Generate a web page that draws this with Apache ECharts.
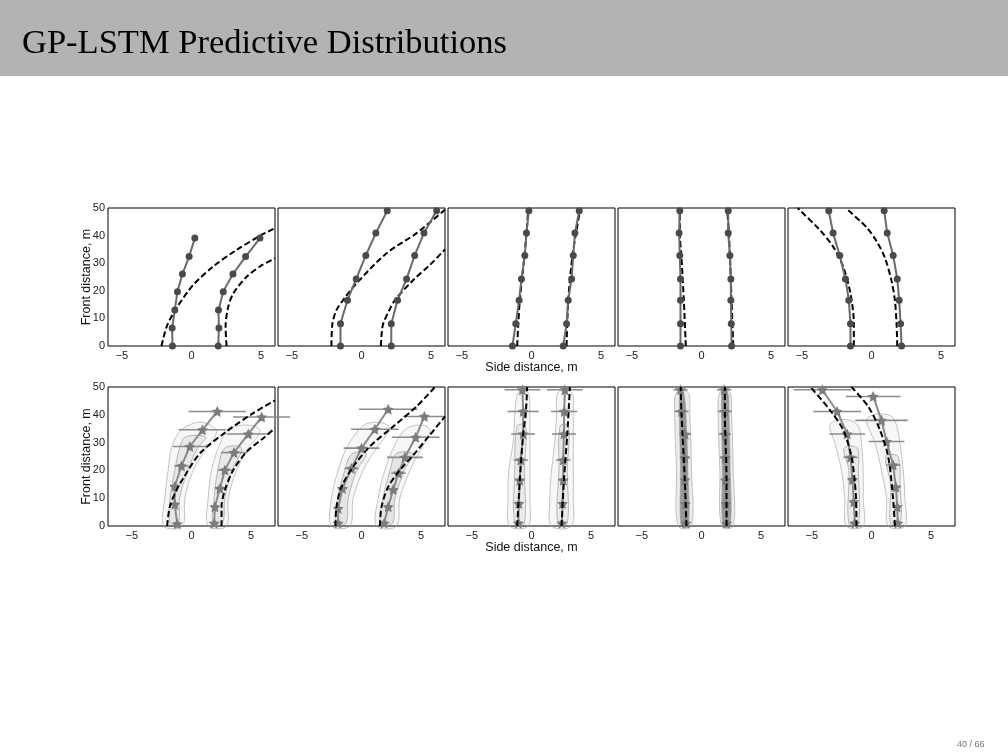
<!DOCTYPE html>
<html>
<head>
<meta charset="utf-8">
<script src="https://cdn.jsdelivr.net/npm/echarts@6/dist/echarts.min.js"></script>
<style>
  html, body { margin: 0; padding: 0; background: #fff; }
  #chart { width: 1008px; height: 756px; }
</style>
</head>
<body>
<div id="chart"></div>
<script>
// --- data (side distance x, front distance y, metres) ---

// top row: point predictions [x, y]
const topPredLeft = [
    [[-1.37, 0], [-1.39, 6.5], [-1.2, 13], [-1.01, 19.7], [-0.65, 26.1], [-0.17, 32.4], [0.24, 39.1]],
    [[-1.51, 0], [-1.51, 8.1], [-1.01, 16.6], [-0.38, 24.3], [0.31, 32.8], [1.03, 40.9], [1.85, 49]],
    [[-1.37, 0], [-1.13, 8.1], [-0.89, 16.6], [-0.72, 24.3], [-0.48, 32.8], [-0.36, 40.9], [-0.19, 49]],
    [[-1.51, 0], [-1.51, 8.1], [-1.51, 16.6], [-1.51, 24.3], [-1.56, 32.8], [-1.61, 40.9], [-1.56, 49]],
    [[-1.51, 0], [-1.51, 8.1], [-1.63, 16.6], [-1.87, 24.3], [-2.28, 32.8], [-2.76, 40.9], [-3.07, 49]]
]
const topPredRight = [
    [[1.92, 0], [1.97, 6.5], [1.94, 13], [2.28, 19.7], [2.98, 26.1], [3.89, 32.4], [4.92, 39.1]],
    [[2.14, 0], [2.14, 8.1], [2.59, 16.6], [3.24, 24.3], [3.82, 32.8], [4.49, 40.9], [5.4, 49]],
    [[2.28, 0], [2.52, 8.1], [2.64, 16.6], [2.88, 24.3], [3.0, 32.8], [3.12, 40.9], [3.43, 49]],
    [[2.16, 0], [2.14, 8.1], [2.11, 16.6], [2.11, 24.3], [2.04, 32.8], [1.92, 40.9], [1.92, 49]],
    [[2.16, 0], [2.09, 8.1], [1.99, 16.6], [1.85, 24.3], [1.56, 32.8], [1.13, 40.9], [0.91, 49]]
]
// top row: ground-truth paths (dashed)
const topTruthLeft = [
    [[-2.16, 0], [-2.0, 3.3], [-1.75, 7.5], [-1.4, 11], [-1.0, 14.4], [0.12, 22.1], [1.56, 28.8], [3.24, 34.8], [4.92, 39.9], [6.0, 42.7]],
    [[-2.16, 0], [-2.09, 8.1], [-1.8, 13], [-1.27, 17], [-0.36, 22.7], [1.8, 33.6], [3.96, 40.9], [6.0, 49.4]],
    [[-1.03, 0], [-0.95, 8], [-0.84, 16.6], [-0.6, 28], [-0.36, 40.9], [-0.24, 49]],
    [[-1.13, 0], [-1.27, 16.6], [-1.45, 32.8], [-1.56, 40.9], [-1.56, 49]],
    [[-1.27, 0], [-1.27, 8.1], [-1.51, 19], [-2.04, 28.8], [-2.76, 36], [-3.72, 42.1], [-5.11, 49], [-5.3, 50]]
]
const topTruthRight = [
    [[2.52, 0], [2.45, 6.9], [2.64, 14.2], [3.0, 19], [3.96, 25.1], [4.92, 28.8], [6.0, 31.8]],
    [[1.39, 0], [1.46, 5], [1.56, 8.1], [2.0, 13], [2.4, 16.6], [3.72, 23.9], [4.92, 29.4], [6.0, 35]],
    [[2.52, 0], [2.64, 16.6], [2.95, 32.8], [3.48, 49]],
    [[2.28, 0], [2.16, 16.6], [1.97, 40.9], [1.85, 49]],
    [[1.85, 0], [1.8, 8.1], [1.68, 16.6], [1.44, 23.6], [0.96, 32], [0.36, 38], [-0.36, 43], [-1.68, 49.2]]
]

// bottom row: predictive means with horizontal spread [x, y, halfWidth]
const botPredLeft = [
    [[-1.2, 0.8, 0.2], [-1.4, 7.8, 0.3], [-1.4, 14.3, 0.4], [-0.84, 21.6, 0.6], [-0.14, 28.6, 1.4], [0.92, 34.6, 2.0], [2.16, 41.2, 2.4]],
    [[-1.96, 1, 0.2], [-1.96, 6.3, 0.3], [-1.6, 13.5, 0.4], [-0.84, 20.7, 0.6], [0, 28, 1.5], [1.12, 34.8, 2.0], [2.24, 42, 2.45]],
    [[-1.1, 1, 0.2], [-1.06, 8.1, 0.3], [-0.98, 16.5, 0.4], [-0.9, 23.7, 0.6], [-0.7, 33.1, 1.0], [-0.7, 41.2, 1.3], [-0.76, 49, 1.5]],
    [[-1.3, 1, 0.2], [-1.35, 8, 0.2], [-1.4, 16.5, 0.3], [-1.4, 24.5, 0.4], [-1.37, 33, 0.5], [-1.68, 41.2, 0.6], [-1.76, 49, 0.6]],
    [[-1.4, 1, 0.2], [-1.48, 8.7, 0.3], [-1.6, 16.7, 0.4], [-1.76, 24.7, 0.6], [-2.04, 33.1, 1.5], [-2.88, 41.2, 2.0], [-4.12, 49, 2.4]]
]
const botPredRight = [
    [[1.9, 1, 0.2], [1.96, 6.9, 0.3], [2.38, 13.5, 0.4], [2.8, 20.1, 0.6], [3.56, 26.4, 1.1], [4.76, 33.1, 1.8], [5.88, 39.2, 2.4]],
    [[1.9, 1, 0.2], [2.24, 6.9, 0.3], [2.66, 13.1, 0.4], [3.1, 19, 0.6], [3.64, 24.7, 1.5], [4.54, 31.9, 2.0], [5.27, 39.4, 1.8]],
    [[2.55, 1, 0.2], [2.6, 8.1, 0.3], [2.66, 16.5, 0.4], [2.66, 23.7, 0.6], [2.72, 33.1, 1.0], [2.74, 41.2, 1.1], [2.8, 49, 1.5]],
    [[2.1, 1, 0.2], [2.05, 8, 0.2], [2.0, 16.5, 0.3], [1.98, 24.5, 0.4], [1.96, 33, 0.5], [1.96, 41.2, 0.6], [1.9, 49, 0.6]],
    [[2.2, 1, 0.2], [2.16, 6.9, 0.3], [2.04, 14, 0.4], [1.82, 21.9, 0.6], [1.26, 30.4, 1.5], [0.84, 38, 2.2], [0.14, 46.6, 2.3]]
]
const botTruthLeft = [
    [[-2.04, 0], [-1.82, 6.9], [-1.26, 12.9], [-0.7, 17.1], [0.7, 26.1], [2.94, 34], [5.18, 40.6], [7, 45.2]],
    [[-2.18, 0], [-2.1, 6.9], [-1.68, 14.1], [-0.7, 21.3], [0.7, 28.6], [2.66, 35.8], [4.62, 43], [6.16, 50]],
    [[-1.2, 0], [-0.98, 16.5], [-0.7, 32.8], [-0.48, 40.6], [-0.36, 50]],
    [[-1.26, 0], [-1.4, 16.5], [-1.68, 40.6], [-1.74, 50]],
    [[-1.26, 0], [-1.32, 11.7], [-1.68, 24.9], [-2.38, 34.6], [-3.5, 41.8], [-5.04, 49.6]]
]
const botTruthRight = [
    [[2.52, 0], [2.52, 6.9], [2.8, 12.9], [3.5, 20.1], [4.62, 26.7], [6.02, 31.6], [7, 35.2]],
    [[1.54, 0], [1.68, 6.9], [2.24, 14.1], [3.22, 20.1], [4.34, 25.5], [5.74, 32.8], [7, 39.4]],
    [[2.52, 0], [2.72, 16.5], [3.0, 33.1], [3.22, 50]],
    [[2.1, 0], [2.1, 16.5], [1.96, 40.6], [1.96, 50]],
    [[1.96, 0], [1.82, 9.3], [1.4, 24.9], [0.7, 34.6], [-0.28, 43], [-1.68, 50]]
]

// bottom row: density contour outlines, rows of [y, xLeft, xRight]
const outerLeft = [
    [[0, -2.32, -0.76], [10, -2.24, -0.56], [20, -1.96, 0.14], [28, -1.68, 1.26], [34, -0.98, 2.1], [37, 0.2, 1.2]],
    [[0, -2.52, -0.98], [10, -2.52, -0.7], [20, -1.96, 0.14], [28, -1.26, 1.26], [35, -0.14, 2.38], [37, 0.6, 1.8]],
    [[0, -1.82, -0.28], [10, -1.96, -0.14], [20, -1.9, -0.14], [30, -1.54, -0.14], [40, -1.4, -0.14], [48, -1.1, -0.3]],
    [[0, -1.96, -0.84], [20, -2.1, -0.84], [40, -2.24, -0.98], [48, -2.1, -1.12]],
    [[0, -2.1, -0.7], [10, -2.24, -0.7], [20, -2.52, -0.7], [30, -3.08, -0.84], [36, -3.5, -1.12], [38, -3.0, -1.8]]
]
const outerRight = [
    [[0, 1.4, 2.94], [10, 1.4, 3.08], [20, 1.68, 3.78], [28, 2.24, 4.76], [34, 2.94, 5.74], [36, 3.8, 5.2]],
    [[0, 1.26, 2.94], [10, 1.4, 3.22], [20, 1.96, 4.06], [28, 2.66, 5.04], [34, 3.5, 5.74], [36, 4.3, 5.4]],
    [[0, 1.68, 3.36], [10, 1.54, 3.5], [20, 1.68, 3.5], [30, 1.96, 3.5], [40, 2.1, 3.5], [48, 2.24, 3.36]],
    [[0, 1.68, 2.66], [20, 1.54, 2.66], [40, 1.4, 2.52], [48, 1.54, 2.38]],
    [[0, 1.4, 2.8], [10, 1.26, 2.8], [20, 0.84, 2.66], [30, 0.28, 2.38], [38, -0.42, 1.96], [40, 0.2, 1.4]]
]
const innerLeft = [
    [[1, -1.8, -1.1], [10, -1.8, -1.0], [20, -1.4, -0.3], [28, -1.0, 0.5], [32, -0.5, 1.2]],
    [[1, -2.1, -1.3], [10, -2.0, -1.1], [20, -1.4, -0.4], [26, -0.8, 0.4]],
    [[1, -1.4, -0.6], [20, -1.4, -0.6], [36, -1.2, -0.5]],
    [[0, -1.7, -1.1], [20, -1.75, -1.15], [40, -1.85, -1.3], [48, -1.8, -1.5]],
    [[1, -1.9, -1.1], [20, -1.9, -1.1], [28, -2.3, -1.2]]
]
const innerRight = [
    [[1, 1.8, 2.6], [10, 1.9, 2.8], [20, 2.2, 3.4], [28, 2.8, 4.2]],
    [[1, 1.6, 2.6], [10, 1.8, 2.8], [20, 2.4, 3.6], [26, 2.9, 4.3]],
    [[1, 2.2, 3.0], [20, 2.3, 3.0], [36, 2.4, 3.1]],
    [[0, 1.8, 2.4], [20, 1.75, 2.4], [40, 1.7, 2.3], [48, 1.75, 2.2]],
    [[1, 1.6, 2.4], [15, 1.6, 2.4], [25, 1.2, 2.2]]
]

const xTicks = [-5, 0, 5]

// --- layout / style ---
const SANS = '"Liberation Sans", Arial, sans-serif'
const colLeft = [108, 278, 448, 618, 788]
const panelW = 167
const rows = [{top: 208, height: 138, range: 6}, {top: 387, height: 139, range: 7}]
const outerFill = [0.03, 0.03, 0.03, 0.08, 0.03]
const innerFill = [0.06, 0.07, 0.05, 0.35, 0.05]
const star = 'path://M0,-10L2.9,-4L9.5,-3.1L4.7,1.5L5.9,8.1L0,5L-5.9,8.1L-4.7,1.5L-9.5,-3.1L-2.9,-4Z'

let minus = (v) => v < 0 ? '\u2212' + Math.abs(v) : String(v)

let grids = [], xAxes = [], yAxes = [], series = []

rows.forEach((row, r) => {
    colLeft.forEach((left, c) => {
        let g = r * 5 + c
        grids.push({left: left, top: row.top, width: panelW, height: row.height,
            show: true, borderColor: '#000', borderWidth: 1, containLabel: false})
        xAxes.push({
            gridIndex: g, type: 'value', min: -row.range, max: row.range,
            name: c === 2 ? 'Side distance, m' : '', nameLocation: 'middle', nameGap: 15,
            nameMoveOverlap: false,
            nameTextStyle: {fontFamily: SANS, fontSize: 12.5, color: '#111'},
            axisLine: {show: false}, splitLine: {show: false},
            axisTick: {show: false},
            axisLabel: {customValues: xTicks, formatter: minus, fontFamily: SANS, fontSize: 11, color: '#222', margin: 4}
        })
        yAxes.push({
            gridIndex: g, type: 'value', min: 0, max: 50, interval: 10,
            name: c === 0 ? 'Front distance, m' : '', nameLocation: 'middle', nameGap: 15,
            nameMoveOverlap: false,
            nameTextStyle: {fontFamily: SANS, fontSize: 12.5, color: '#111'},
            axisLine: {show: false}, splitLine: {show: false}, axisTick: {show: false},
            axisLabel: {show: c === 0, fontFamily: SANS, fontSize: 11, color: '#222', margin: 3}
        })
    })
})

let truthLine = (g, data, z) => ({
    type: 'line', xAxisIndex: g, yAxisIndex: g, data: data, smooth: 0.3, symbol: 'none', z: z,
    lineStyle: {color: '#000', width: 2, type: [6, 3]}, silent: true
})

let fan = (g, rowsData, fill, stroke) => {
    let pts = rowsData.map(d => [d[1], d[0]]).concat(rowsData.slice().reverse().map(d => [d[2], d[0]]))
    return {
        type: 'custom', xAxisIndex: g, yAxisIndex: g, data: [[0, 0]], z: 1, silent: true,
        renderItem: (params, api) => ({
            type: 'polygon',
            shape: {points: pts.map(p => api.coord(p)), smooth: 0.35},
            style: {fill: 'rgba(0,0,0,' + fill + ')', stroke: stroke, lineWidth: 0.7}
        })
    }
}

let errBars = (g, data) => ({
    type: 'custom', xAxisIndex: g, yAxisIndex: g, data: data, z: 2, silent: true,
    renderItem: (params, api) => {
        let x = api.value(0), y = api.value(1), e = api.value(2)
        let a = api.coord([x - e, y]), b = api.coord([x + e, y])
        return {type: 'line', shape: {x1: a[0], y1: a[1], x2: b[0], y2: b[1]},
            style: {stroke: '#8c8c8c', lineWidth: 1.6}}
    }
})

// top row
for (let c = 0; c < 5; c++) {
    let g = c;
    [topPredLeft[c], topPredRight[c]].forEach(d => series.push({
        type: 'line', xAxisIndex: g, yAxisIndex: g, data: d, z: 4, silent: true,
        symbol: 'circle', symbolSize: 7,
        itemStyle: {color: '#4a4a4a'}, lineStyle: {color: '#6a6a6a', width: 2}
    }))
    series.push(truthLine(g, topTruthLeft[c], 3), truthLine(g, topTruthRight[c], 3))
}

// bottom row
for (let c = 0; c < 5; c++) {
    let g = 5 + c
    series.push(fan(g, outerLeft[c], outerFill[c], '#ababab'), fan(g, outerRight[c], outerFill[c], '#ababab'))
    series.push(fan(g, innerLeft[c], innerFill[c], '#9c9c9c'), fan(g, innerRight[c], innerFill[c], '#9c9c9c'));
    [botPredLeft[c], botPredRight[c]].forEach(d => {
        series.push(errBars(g, d))
        series.push({
            type: 'line', xAxisIndex: g, yAxisIndex: g, data: d.map(p => [p[0], p[1]]), z: 3, silent: true,
            symbol: star, symbolSize: 11,
            itemStyle: {color: '#7c7c7c'}, lineStyle: {color: '#8a8a8a', width: 2}
        })
    })
    series.push(truthLine(g, botTruthLeft[c], 4), truthLine(g, botTruthRight[c], 4))
}

let chart = echarts.init(document.getElementById('chart'), null, {renderer: 'canvas'})
chart.setOption({
    backgroundColor: '#fff',
    animation: false,
    grid: grids,
    xAxis: xAxes,
    yAxis: yAxes,
    series: series,
    graphic: [
        {type: 'rect', left: 0, top: 0, shape: {width: 1008, height: 76}, style: {fill: '#b3b3b3'}, z: 0},
        {type: 'text', x: 22, y: 44, z: 1,
            style: {text: 'GP-LSTM Predictive Distributions', font: '34.5px "Liberation Serif", "Times New Roman", serif',
                fill: '#000', verticalAlign: 'middle'}},
        {type: 'text', x: 957, y: 745,
            style: {text: '40 / 66', font: '9px ' + SANS, fill: '#777', verticalAlign: 'middle'}}
    ]
})
</script>
</body>
</html>
